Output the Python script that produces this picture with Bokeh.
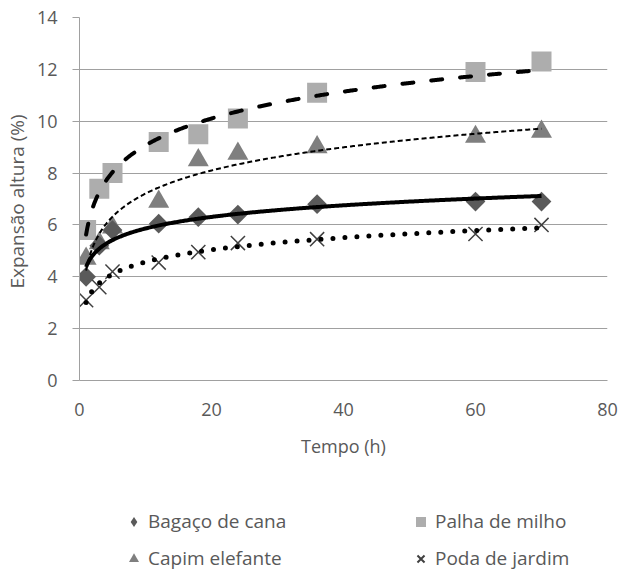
import numpy as np
from bokeh.plotting import figure
from bokeh.layouts import column
from bokeh.models import Range1d, Legend, LegendItem, FixedTicker
from bokeh.embed import file_html
from bokeh.resources import INLINE

# ---- data ----
tempo = [1, 3, 5, 12, 18, 24, 36, 60, 70]
bagaco = [4.0, 5.2, 5.8, 6.05, 6.3, 6.4, 6.8, 6.9, 6.9]
palha = [5.8, 7.4, 8.0, 9.2, 9.5, 10.1, 11.1, 11.9, 12.3]
capim = [4.7, 5.3, 5.9, 6.9, 8.5, 8.75, 9.0, 9.4, 9.6]
poda = [3.1, 3.6, 4.2, 4.55, 4.95, 5.3, 5.45, 5.65, 6.0]
series_names = ["Bagaço de cana", "Palha de milho", "Capim elefante", "Poda de jardim"]
x_ticks = [0, 20, 40, 60, 80]
y_ticks = [0, 2, 4, 6, 8, 10, 12, 14]

FONT = "Open Sans"
TXT = "#595959"
GRID = "#A0A0A0"

STYLES = {
    "Bagaço de cana": dict(marker="square", angle=np.pi / 4, size=14,
                           fill_color="#5A5A5A", line_color=None),
    "Palha de milho": dict(marker="square", size=20,
                           fill_color="#ADADAD", line_color=None),
    "Capim elefante": dict(marker="triangle", size=21,
                           fill_color="#7F7F7F", line_color=None),
    "Poda de jardim": dict(marker="x", size=20,
                           line_color="#404040", line_width=1.5),
}
# legend swatches (the legend does not rotate markers, so use a diamond there)
LEGEND_STYLES = dict(STYLES)
LEGEND_STYLES["Bagaço de cana"] = dict(marker="diamond", size=14,
                                       fill_color="#5A5A5A", line_color=None)
LEGEND_STYLES["Poda de jardim"] = dict(marker="x", size=20,
                                       line_color="#404040", line_width=2)

# logarithmic trendlines (least squares on ln t), drawn from first to last time
t = np.array(tempo, dtype=float)
tt = np.linspace(t.min(), t.max(), 400)


def logfit(y):
    a, b = np.polyfit(np.log(t), np.array(y, dtype=float), 1)
    return a * np.log(tt) + b


p = figure(width=620, height=470, x_range=Range1d(0, 80), y_range=Range1d(0, 14),
           output_backend="svg", toolbar_location=None,
           min_border_left=79, min_border_right=13, min_border_top=17, min_border_bottom=90)
p.outline_line_color = None
p.xgrid.visible = False
p.ygrid.ticker = FixedTicker(ticks=y_ticks)
p.ygrid.grid_line_color = GRID
p.ygrid.grid_line_width = 1

for ax in (p.xaxis[0], p.yaxis[0]):
    ax.axis_line_color = GRID
    ax.major_tick_line_color = GRID
    ax.minor_tick_line_color = None
    ax.major_label_text_font = FONT
    ax.major_label_text_font_size = "18px"
    ax.major_label_text_color = TXT
    ax.axis_label_text_font = FONT
    ax.axis_label_text_font_size = "18px"
    ax.axis_label_text_color = TXT
    ax.axis_label_text_font_style = "normal"

p.xaxis.ticker = FixedTicker(ticks=x_ticks)
p.xaxis.major_tick_out = 0
p.xaxis.major_tick_in = 0
p.xaxis.major_label_standoff = 22
p.xaxis.axis_label = "Tempo (h)"
p.xaxis.axis_label_standoff = 15

p.yaxis.ticker = FixedTicker(ticks=y_ticks)
p.yaxis.major_tick_out = 7
p.yaxis.major_tick_in = 0
p.yaxis.major_label_standoff = 15
p.yaxis.axis_label = "Expansão altura  (%)"
p.yaxis.axis_label_text_font_size = "19px"
p.yaxis.axis_label_standoff = 4

# markers (drawing order: squares, triangles, diamonds, crosses)
for name, yv in [("Palha de milho", palha), ("Capim elefante", capim),
                 ("Bagaço de cana", bagaco), ("Poda de jardim", poda)]:
    p.scatter(tempo, yv, **STYLES[name])

# trendlines
p.line(tt, logfit(bagaco), line_color="black", line_width=4)
p.line(tt, logfit(palha), line_color="black", line_width=4,
       line_dash="11 18", line_cap="round")
p.line(tt, logfit(capim), line_color="black", line_width=2, line_dash="5 3")
p.line(tt, logfit(poda), line_color="black", line_width=5,
       line_dash="0 12", line_cap="round")

# legend strip below the chart (swatch renderers hold no visible point)
lg = figure(width=620, height=103, x_range=Range1d(0, 1), y_range=Range1d(0, 1),
            output_backend="svg", toolbar_location=None,
            x_axis_location=None, y_axis_location=None,
            min_border_left=0, min_border_right=0, min_border_top=0, min_border_bottom=0)
lg.outline_line_color = None
lg.grid.visible = False
items = []
for name in series_names:
    r = lg.scatter(x=[np.nan], y=[np.nan], **LEGEND_STYLES[name])
    items.append(LegendItem(label=name, renderers=[r]))

legend = Legend(
    items=items, location=(42, 2), orientation="horizontal", ncols=2,
    border_line_color=None, background_fill_alpha=0,
    padding=0, margin=0, spacing=11,
    glyph_width=25, glyph_height=25, label_standoff=2,
    label_width=249, label_height=25,
    label_text_font=FONT, label_text_font_size="19px", label_text_color=TXT,
)
lg.add_layout(legend, "center")

layout = column(p, lg, spacing=0)
open("out.html", "w").write(file_html(layout, INLINE))
